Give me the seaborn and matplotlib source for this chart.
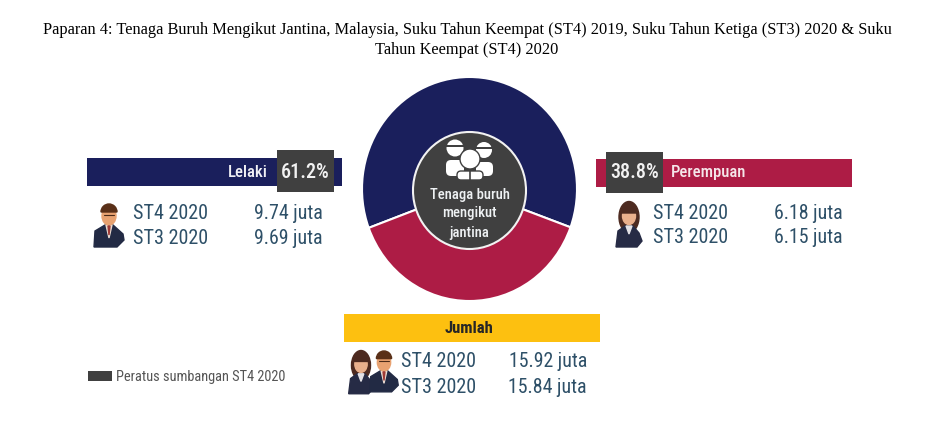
import matplotlib.pyplot as plt
import pandas as pd
import seaborn as sns
from matplotlib.patches import Circle, Ellipse, FancyBboxPatch, Polygon, Rectangle, Wedge

TITLE_LINES = [
    "Paparan 4: Tenaga Buruh Mengikut Jantina, Malaysia, Suku Tahun Keempat (ST4) 2019, Suku Tahun Ketiga (ST3) 2020 & Suku",
    "Tahun Keempat (ST4) 2020",
]
genders = ["Lelaki", "Perempuan"]
shares = [61.2, 38.8]
quarters = ["ST4 2020", "ST3 2020"]
male_values = [9.74, 9.69]
female_values = [6.18, 6.15]
total_values = [15.92, 15.84]
total_label = "Jumlah"
centre_lines = ["Tenaga buruh", "mengikut", "jantina"]
legend_label = "Peratus sumbangan ST4 2020"

NAVY = "#1a1f5c"
RED = "#ad1c45"
YELLOW = "#fdc010"
DARK = "#404040"
TEXT = "#2e5068"
COND = "Roboto Condensed"

sns.set_theme(style="white")
plt.rcParams["font.family"] = [COND, "Liberation Sans", "DejaVu Sans"]

share_df = pd.DataFrame({"gender": genders, "share": shares})

fig = plt.figure(figsize=(9.42, 4.35), dpi=100, facecolor="white")
ax = fig.add_axes([0, 0, 1, 1])
ax.set_xlim(0, 942)
ax.set_ylim(435, 0)
ax.axis("off")


def draw_man(cx, top, s=1.0, z=3):
    ax.add_patch(Polygon([(cx - 15 * s, top + 43 * s), (cx - 14 * s, top + 27 * s), (cx - 4 * s, top + 21 * s),
                          (cx + 4 * s, top + 21 * s), (cx + 14 * s, top + 30 * s), (cx + 15 * s, top + 36 * s),
                          (cx + 8 * s, top + 43 * s)], color="#222a44", zorder=z))
    ax.add_patch(Polygon([(cx - 3 * s, top + 21 * s), (cx + 3 * s, top + 21 * s), (cx, top + 34 * s)],
                         color="#e9dcd2", zorder=z + 1))
    ax.add_patch(Polygon([(cx - 1 * s, top + 22 * s), (cx + 1 * s, top + 22 * s), (cx, top + 31 * s)],
                         color="#a03a35", zorder=z + 2))
    ax.add_patch(Ellipse((cx, top + 12 * s), 14 * s, 18 * s, color="#e8a271", zorder=z + 1))
    ax.add_patch(Wedge((cx, top + 8 * s), 8 * s, 180, 360, color="#5a3018", zorder=z + 2))
    ax.plot([cx - 5 * s, cx + 5 * s], [top + 11 * s] * 2, color="#4a2a18", lw=0.8, zorder=z + 3)


def draw_woman(cx, top, s=1.0, z=3):
    ax.add_patch(Ellipse((cx, top + 15 * s), 20 * s, 31 * s, color="#4d2a20", zorder=z))
    ax.add_patch(Polygon([(cx - 13 * s, top + 45 * s), (cx - 11 * s, top + 29 * s), (cx - 4 * s, top + 24 * s),
                          (cx + 4 * s, top + 24 * s), (cx + 10 * s, top + 31 * s), (cx + 13 * s, top + 39 * s),
                          (cx + 8 * s, top + 45 * s)], color="#262b45", zorder=z + 1))
    ax.add_patch(Polygon([(cx - 3 * s, top + 24 * s), (cx + 3 * s, top + 24 * s), (cx, top + 32 * s)],
                         color="#e4e2e6", zorder=z + 2))
    ax.add_patch(Ellipse((cx, top + 14 * s), 13 * s, 17 * s, color="#eab08c", zorder=z + 2))
    ax.add_patch(Wedge((cx, top + 11 * s), 7 * s, 180, 360, color="#4d2a20", zorder=z + 3))


def band(x0, x1, y0, y1, color):
    ax.add_patch(Rectangle((x0, y0), x1 - x0, y1 - y0, color=color, lw=0, zorder=1))


def value_rows(x_label, x_right, y_rows, values):
    for quarter, value, y in zip(quarters, values, y_rows):
        ax.text(x_label, y + 1.5, quarter, color=TEXT, fontsize=14.5, ha="left", va="center")
        ax.text(x_right, y + 1.5, f"{value:.2f} juta", color=TEXT, fontsize=14.3, ha="right", va="center")


for i, line in enumerate(TITLE_LINES):
    ax.text(467, 30 + i * 20, line, family="Liberation Serif", fontsize=11.75, color="black",
            ha="center", va="center")

# lelaki
band(87, 342, 158.5, 187, NAVY)
band(277, 334, 151, 193, DARK)
ax.text(268, 173, genders[0], color="#f0f0f5", fontsize=12, fontweight="medium", ha="right", va="center")
ax.text(305.5, 172.5, f"{shares[0]}%", color="#f2f2f2", fontsize=14.5, fontweight="medium", ha="center", va="center")
value_rows(133, 323, [212, 237], male_values)
draw_man(109, 205)

# perempuan
band(596, 852, 160, 188, RED)
band(606, 663, 152.5, 194, DARK)
ax.text(671, 173, genders[1], color="#f5e6ea", fontsize=12, fontweight="medium", ha="left", va="center")
ax.text(634.5, 173, f"{shares[1]}%", color="#f2f2f2", fontsize=14.5, fontweight="medium", ha="center", va="center")
value_rows(653, 843, [212, 236], female_values)
draw_woman(629, 203)

# jumlah
band(344, 600, 315, 343, YELLOW)
ax.text(469, 328.5, total_label, color="#262626", fontsize=12, fontweight="bold", ha="center", va="center")
value_rows(401, 587, [360, 386], total_values)
draw_woman(361, 352, 0.95)
draw_man(384, 352, 0.95, z=8)

# legend
band(88, 112, 372, 382, DARK)
ax.text(116, 377.5, legend_label, color="#555555", fontsize=10.4, ha="left", va="center")

# donut, own axes so it can keep the slightly tall shape of the original
pie_ax = fig.add_axes([362 / 942, 1 - 302 / 435, 215 / 942, 224 / 435])
pie_ax.pie(share_df["share"], colors=[NAVY, RED], startangle=-20, counterclock=True, radius=1,
           wedgeprops={"edgecolor": "white", "linewidth": 1.5})
pie_ax.set_xlim(-1, 1)
pie_ax.set_ylim(-1, 1)
pie_ax.set_aspect("auto")
pie_ax.patch.set_alpha(0)

ax2 = fig.add_axes([0, 0, 1, 1])
ax2.set_xlim(0, 942)
ax2.set_ylim(435, 0)
ax2.axis("off")
ax2.patch.set_alpha(0)
ax2.add_patch(Ellipse((469.5, 191.5), 113, 117, facecolor=DARK, edgecolor="#f2f2f2", lw=1.5))

# worker icon
for hx, hy, r in [(455, 149, 8.5), (484, 151, 8)]:
    ax2.add_patch(Circle((hx, hy), r, color="white", lw=0))
    ax2.add_patch(Rectangle((hx - r - 1.5, hy - 3), 2 * r + 3, 1.8, color=DARK, lw=0))
ax2.add_patch(FancyBboxPatch((446, 161), 18, 16, boxstyle="round,pad=0,rounding_size=5", color="white", lw=0))
ax2.add_patch(FancyBboxPatch((476, 163), 17, 14, boxstyle="round,pad=0,rounding_size=5", color="white", lw=0))
ax2.add_patch(Circle((470, 160), 10, facecolor="white", edgecolor=DARK, lw=1))
ax2.add_patch(FancyBboxPatch((457, 172), 26, 9, boxstyle="round,pad=0,rounding_size=4", facecolor="white",
                             edgecolor=DARK, lw=1))
ax2.plot([470, 470], [172, 181], color=DARK, lw=1.2)

for line, y in zip(centre_lines, [195, 213, 233]):
    ax2.text(469.5, y, line, color="#eef1f3", fontsize=10.5, fontweight="medium", ha="center", va="center",
             family=[COND, "Liberation Sans"])

fig.savefig("out.png", dpi=100, facecolor="white")
